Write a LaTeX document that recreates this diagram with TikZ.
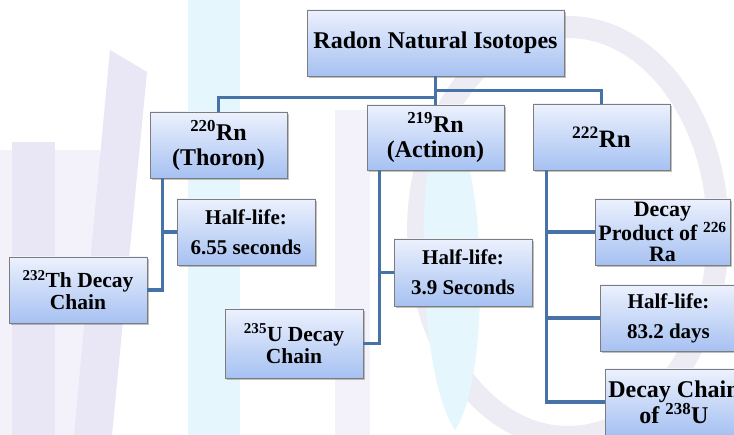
\documentclass[tikz,border=0pt]{standalone}
\usepackage{fontspec}
\setmainfont{Liberation Serif}
\usetikzlibrary{shadows,calc}
\definecolor{boxtop}{RGB}{236,241,253}
\definecolor{boxbot}{RGB}{166,193,242}
\definecolor{boxline}{RGB}{125,125,125}
\definecolor{conncol}{RGB}{70,114,168}
\definecolor{wmlav}{RGB}{233,230,246}
\definecolor{wmlav2}{RGB}{243,241,250}
\definecolor{wmcyan}{RGB}{229,247,252}
\definecolor{wmring}{RGB}{237,235,243}
\begin{document}
\begin{tikzpicture}[x=1pt,y=-1pt,
  box/.style={draw=boxline, line width=0.8pt, top color=boxtop, bottom color=boxbot,
    drop shadow={shadow xshift=1.6pt, shadow yshift=-1.8pt, opacity=0.35, fill=black!70},
    inner sep=0pt, align=center, minimum width=137pt, minimum height=66pt},
  conn/.style={draw=conncol, line width=3.6pt},
  fbig/.style={font=\bfseries\fontsize{24}{25}\selectfont},
  fmid/.style={font=\bfseries\fontsize{21.5}{22}\selectfont},
  fhl/.style={font=\bfseries\fontsize{21}{30}\selectfont}]
\useasboundingbox (0,0) rectangle (734,435);
\clip (0,0) rectangle (734,435);
\fill[white] (0,0) rectangle (734,435);
% faint watermark
\fill[wmlav2] (0,150) rectangle (100,435);
\fill[wmlav] (12,142) rectangle (55,435);
\fill[wmlav] (110,50) -- (147,72) -- (112,435) -- (74,435) -- cycle;
\fill[wmcyan] (188,0) rectangle (240,435);
\fill[wmlav2] (335,110) rectangle (370,435);
\draw[wmring, line width=22pt] (568,232) ellipse [x radius=150, y radius=205];
\fill[wmcyan] (445,110) .. controls (490,160) and (490,380) .. (455,430) .. controls (420,380) and (410,170) .. (445,110);
% boxes
\node[box, minimum width=257pt, fbig] (root) at (435.5,43) {Radon Natural Isotopes};
\node[box, fbig] (n220) at (218.5,145) {\textsuperscript{220}Rn\\(Thoron)};
\node[box, minimum height=65pt, fbig] (n219) at (435.5,137.5) {\textsuperscript{219}Rn\\(Actinon)};
\node[box, font=\bfseries\fontsize{25}{26}\selectfont] (n222) at (601.5,137) {\textsuperscript{222}Rn};
\node[box, minimum width=138pt, fhl] (hl220) at (246,232) {Half-life:\\6.55 seconds};
\node[box, minimum width=138pt, fmid] (th232) at (78,290) {\textsuperscript{232}Th Decay\\Chain};
\node[box, minimum width=138pt, minimum height=67pt, fhl] (hl219) at (463,272.5) {Half-life:\\3.9 Seconds};
\node[box, minimum width=138pt, minimum height=69pt, fmid] (u235) at (294,343.5) {\textsuperscript{235}U Decay\\Chain};
\node[box, minimum width=135pt, font=\bfseries\fontsize{22}{21.5}\selectfont] (dp226) at (662.5,232) {Decay\\Product of \textsuperscript{226}\\Ra};
\node[box, fhl] (hl222) at (668.5,318) {Half-life:\\83.2 days};
\node[box, font=\bfseries\fontsize{24}{23}\selectfont] (dc238) at (674,402) {Decay Chain\\of \textsuperscript{238}U};
% connectors
\draw[conn] (root.south) -- (n219.north);
\draw[conn] ($(root.south)+(0,21)$) -| (n220.north);
\draw[conn] ($(root.south)+(0,14)$) -| (n222.north);
\draw[conn] ($(n220.south west)+(13,0)$) |- (hl220.west);
\draw[conn] ($(n220.south west)+(13,0)$) |- (th232.east);
\draw[conn] ($(n219.south west)+(13,0)$) |- (hl219.west);
\draw[conn] ($(n219.south west)+(13,0)$) |- (u235.east);
\draw[conn] ($(n222.south west)+(14,0)$) |- (dp226.west);
\draw[conn] ($(n222.south west)+(14,0)$) |- (hl222.west);
\draw[conn] ($(n222.south west)+(14,0)$) |- (dc238.west);
\end{tikzpicture}
\end{document}
